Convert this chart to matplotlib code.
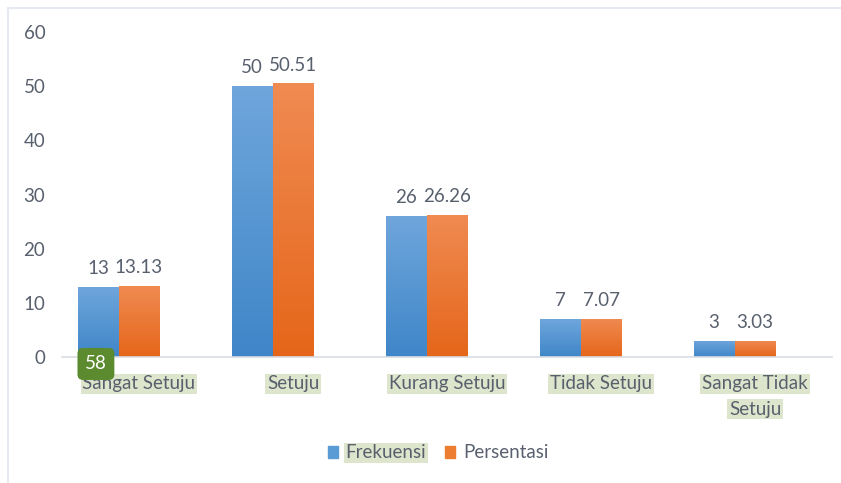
import matplotlib
matplotlib.use("Agg")
import matplotlib.pyplot as plt
import matplotlib.transforms as mtransforms
from matplotlib.colors import LinearSegmentedColormap
from matplotlib.patches import Rectangle
import numpy as np

categories = ["Sangat Setuju", "Setuju", "Kurang Setuju", "Tidak Setuju", "Sangat Tidak\nSetuju"]
frekuensi = [13, 50, 26, 7, 3]
persentasi = [13.13, 50.51, 26.26, 7.07, 3.03]
freq_labels = ["13", "50", "26", "7", "3"]
pers_labels = ["13.13", "50.51", "26.26", "7.07", "3.03"]
yticks = [0, 10, 20, 30, 40, 50, 60]
badge_text = "58"

FONT = "Lato"
FS = 13.5
TXT = "#58606e"
HL = "#dde5cc"

fig = plt.figure(figsize=(8.41, 4.83), dpi=100)
ax = fig.add_axes([62/841, 1-357/483, (832-62)/841, (357-32)/483])

x = np.arange(len(categories))
w = 41/154
b1 = ax.bar(x - w, frekuensi, width=w, color="#5b9bd5", zorder=2)
b2 = ax.bar(x, persentasi, width=w, color="#ed7d31", zorder=2)

cm_blue = LinearSegmentedColormap.from_list("b", ["#3f86c8", "#6fa6dc"])
cm_or = LinearSegmentedColormap.from_list("o", ["#e5661a", "#f08b52"])
grad = np.linspace(0, 1, 256).reshape(-1, 1)
for bars, cm in ((b1, cm_blue), (b2, cm_or)):
    for p in bars:
        x0, y0 = p.get_x(), p.get_y()
        ww, hh = p.get_width(), p.get_height()
        im = ax.imshow(grad, cmap=cm, origin="lower", aspect="auto",
                       extent=[x0, x0 + ww, y0, y0 + hh], zorder=2.5)
        im.set_clip_path(p)
        p.set_edgecolor("none")

for bars, labs in ((b1, freq_labels), (b2, pers_labels)):
    for p, lab in zip(bars, labs):
        ax.annotate(lab, (p.get_x() + p.get_width()/2, p.get_height()),
                    xytext=(0, 7), textcoords="offset points", ha="center", va="bottom",
                    fontsize=FS, color=TXT, family=FONT)

ax.set_xlim(-0.5, len(categories) - 0.5)
ax.set_ylim(0, 60)
ax.set_yticks(yticks)
ax.set_yticklabels([str(t) for t in yticks], fontsize=FS, color=TXT, family=FONT)
ax.tick_params(axis="y", length=0, pad=12)
ax.set_xticks([])
for s in ["top", "right", "left"]:
    ax.spines[s].set_visible(False)
ax.spines["bottom"].set_color("#d9dde3")
ax.spines["bottom"].set_linewidth(1.2)
ax.spines["bottom"].set_zorder(3)

trans = mtransforms.blended_transform_factory(ax.transData, ax.transAxes)
for i, cat in enumerate(categories):
    for j, line in enumerate(cat.split("\n")):
        t = ax.text(i, 0, line, transform=trans, ha="center", va="center",
                    fontsize=FS, color=TXT, family=FONT,
                    bbox=dict(boxstyle="square,pad=0.1", facecolor=HL, edgecolor="none"))
        t.set_transform(trans + mtransforms.ScaledTranslation(0, -(27 + 25*j)/100, fig.dpi_scale_trans))

# badge
ax.annotate(badge_text, (x[0] - w, 0), xytext=(-1.5, -5), textcoords="offset points",
            ha="center", va="center", fontsize=FS, color="white", family=FONT, zorder=5,
            bbox=dict(boxstyle="round,pad=0.4,rounding_size=0.3", facecolor="#5b8a2f", edgecolor="none"))

leg = fig.legend(handles=[Rectangle((0, 0), 1, 1, color="#5b9bd5"), Rectangle((0, 0), 1, 1, color="#ed7d31")],
                 labels=["Frekuensi", "Persentasi"], loc="center", bbox_to_anchor=(438/841, 1-453/483),
                 ncol=2, frameon=False, handlelength=0.55, handleheight=0.55, handletextpad=0.4,
                 columnspacing=1.0, prop={"family": FONT, "size": FS})
for t in leg.get_texts():
    t.set_color(TXT)
leg.get_texts()[0].set_bbox(dict(boxstyle="square,pad=0.08", facecolor=HL, edgecolor="none"))

# outer border lines (left and top)
fig.add_artist(plt.Line2D([8/841, 8/841], [0, 1-8/483], color="#e6e9ef", lw=1.5, transform=fig.transFigure))
fig.add_artist(plt.Line2D([8/841, 1], [1-8/483, 1-8/483], color="#e6e9ef", lw=1.5, transform=fig.transFigure))

fig.savefig("out.png", dpi=100)
